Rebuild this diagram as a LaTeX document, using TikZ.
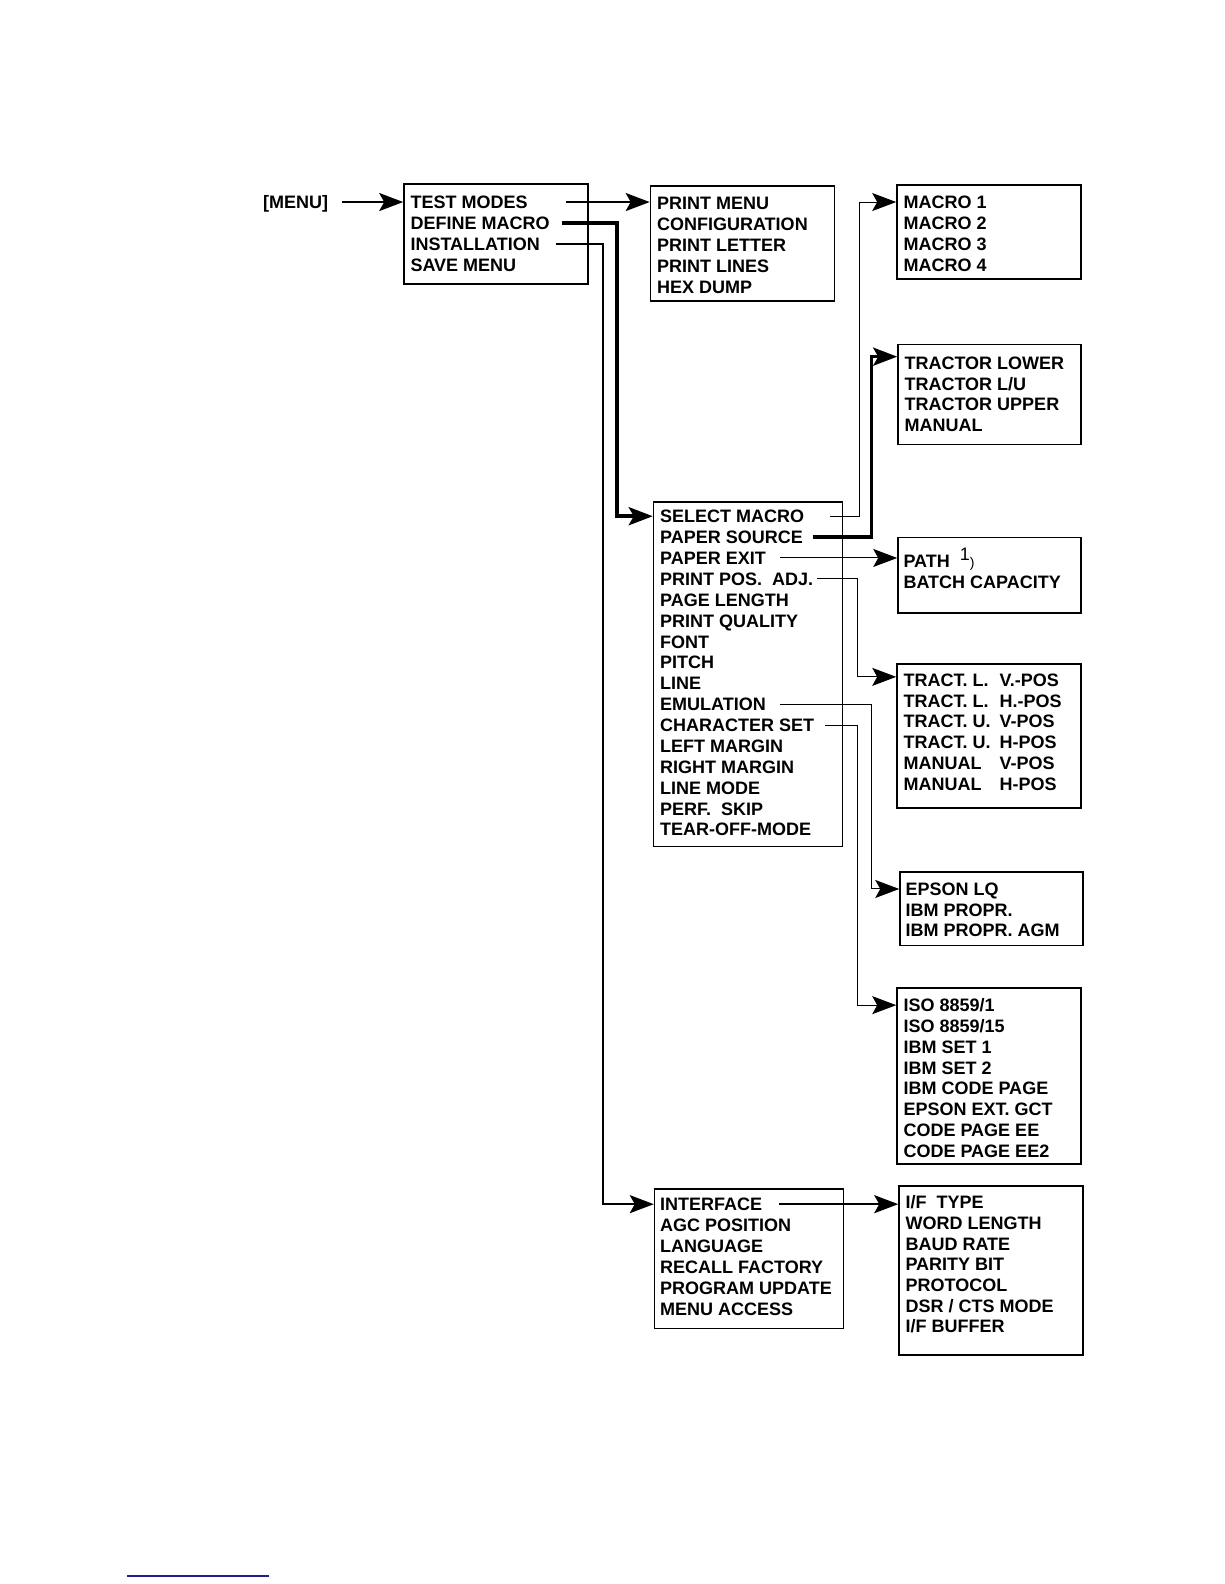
\documentclass[tikz,border=0pt]{standalone}
\usepackage{fontspec}
\setmainfont{Liberation Sans}
\usetikzlibrary{arrows.meta}
\definecolor{footblue}{RGB}{30,30,140}

\begin{document}
\begin{tikzpicture}[x=0.50495pt,y=-0.50495pt,
  >={Stealth[length=12pt,width=9pt,inset=2.5pt]},
  menubox/.style={draw,line width=0.85pt,inner sep=0pt},
  item/.style={anchor=west,inner sep=0pt,text height=6.5pt,text depth=0pt,
    font=\fontsize{9}{11}\selectfont\bfseries},
  thinline/.style={line width=0.5pt},
  midline/.style={line width=1.1pt},
  fatline/.style={line width=1.8pt}]
  \useasboundingbox (0,0) rectangle (1212,1568);
  % the boxes (page is measured in pixels of the scan, sizes in pt)
  \node[menubox,minimum width=91.9pt,minimum height=50pt]   (main)  at (491,231.5)  {};
  \node[menubox,minimum width=91.9pt,minimum height=57.6pt] (test)  at (735,241)    {};
  \node[menubox,minimum width=91.9pt,minimum height=47pt]   (macro) at (979,229.5)  {};
  \node[menubox,minimum width=91.4pt,minimum height=50pt]   (tract) at (979.5,390.5){};
  \node[menubox,minimum width=94.4pt,minimum height=172.2pt](setup) at (740.5,667.5){};
  \node[menubox,minimum width=91.4pt,minimum height=37.9pt] (path)  at (979.5,569.5){};
  \node[menubox,minimum width=91.9pt,minimum height=72.2pt] (ppos)  at (979,728.5)  {};
  \node[menubox,minimum width=91.4pt,minimum height=36.9pt] (emul)  at (981.5,899.5){};
  \node[menubox,minimum width=91.9pt,minimum height=87.9pt] (cset)  at (979,1065)   {};
  \node[menubox,minimum width=94.4pt,minimum height=69.7pt] (inst)  at (741.5,1246) {};
  \node[menubox,minimum width=91.9pt,minimum height=84.3pt] (iface) at (981,1257.5) {};

  % the menu lines
  \node[item] (menu) at (260,200) {[MENU]};
  \foreach \t [count=\i] in {TEST MODES,DEFINE MACRO,INSTALLATION,SAVE MENU}
    \node[item] (m\i) at (406,{179.3+20.7*\i}) {\t};
  \foreach \t [count=\i] in {PRINT MENU,CONFIGURATION,PRINT LETTER,PRINT LINES,HEX DUMP}
    \node[item] (t\i) at (650,{180.25+20.75*\i}) {\t};
  \foreach \t [count=\i] in {MACRO 1,MACRO 2,MACRO 3,MACRO 4}
    \node[item] (mc\i) at (894,{179.33+20.67*\i}) {\t};
  \foreach \t [count=\i] in {TRACTOR LOWER,TRACTOR L/U,TRACTOR UPPER,MANUAL}
    \node[item] (tr\i) at (895,{338.33+20.67*\i}) {\t};
  \foreach \t [count=\i] in {SELECT MACRO,PAPER SOURCE,PAPER EXIT,PRINT POS.\ \ ADJ.,
      PAGE LENGTH,PRINT QUALITY,FONT,PITCH,LINE,EMULATION,CHARACTER SET,
      LEFT MARGIN,RIGHT MARGIN,LINE MODE,PERF.\ \ SKIP,TEAR-OFF-MODE}
    \node[item] (s\i) at (653,{490.33+20.67*\i}) {\t};
  \foreach \t [count=\i] in {PATH\ \ \raisebox{3.5pt}{\mdseries 1}{\mdseries\fontsize{7}{8}\selectfont )},
      BATCH CAPACITY}
    \node[item] (pa\i) at (894,{534+21*\i}) {\t};
  \foreach \t [count=\i] in {\makebox[48pt][l]{TRACT. L.}V.-POS,
      \makebox[48pt][l]{TRACT. L.}H.-POS,\makebox[48pt][l]{TRACT. U.}V-POS,
      \makebox[48pt][l]{TRACT. U.}H-POS,\makebox[48pt][l]{MANUAL}V-POS,
      \makebox[48pt][l]{MANUAL}H-POS}
    \node[item] (pp\i) at (894,{652.4+20.6*\i}) {\t};
  \foreach \t [count=\i] in {EPSON LQ,IBM PROPR.,IBM PROPR. AGM}
    \node[item] (em\i) at (896,{859.5+20.5*\i}) {\t};
  \foreach \t [count=\i] in {ISO 8859/1,ISO 8859/15,IBM SET 1,IBM SET 2,IBM CODE PAGE,
      EPSON EXT. GCT,CODE PAGE EE,CODE PAGE EE2}
    \node[item] (cs\i) at (894,{974.43+20.57*\i}) {\t};
  \foreach \t [count=\i] in {INTERFACE,AGC POSITION,LANGUAGE,RECALL FACTORY,
      PROGRAM UPDATE,MENU ACCESS}
    \node[item] (in\i) at (653,{1171.2+20.8*\i}) {\t};
  \foreach \t [count=\i] in {I/F\ \ TYPE,WORD LENGTH,BAUD RATE,PARITY BIT,PROTOCOL,
      DSR / CTS MODE,I/F BUFFER}
    \node[item] (if\i) at (896,{1169.5+20.5*\i}) {\t};

  % connectors
  \draw[->,midline] ([xshift=7pt]menu.east) -- (main.west |- menu);
  \draw[->,midline] ([xshift=19pt]m1.east) -- (test.west |- m1);
  \draw[->,fatline] ([xshift=5.8pt]m2.east) -- ([xshift=14.1pt]main.east |- m2)
    |- (setup.west |- s1);
  \draw[->,midline] ([xshift=7.7pt]m3.east) -- ([xshift=7.1pt]main.east |- m3)
    |- (inst.west |- in1);
  % from the setup box
  \draw[->,thinline] ([xshift=12.8pt]s1.east) -- ([xshift=8.1pt]setup.east |- s1)
    |- (macro.west |- mc1);
  \draw[->,fatline] ([xshift=4.7pt]s2.east) -- ([xshift=14.1pt]setup.east |- s2)
    |- ([yshift=3pt]tract.west |- tr1);
  \draw[->,thinline] ([xshift=7pt]s3.east) -- (path.west |- s3);
  \draw[->,thinline] ([xshift=1.5pt]s4.east) -- ([xshift=7.1pt]setup.east |- s4)
    |- ([yshift=1.5pt]ppos.west |- pp1);
  \draw[->,thinline] ([xshift=7pt]s10.east) -- ([xshift=14.1pt]setup.east |- s10)
    |- (emul.west |- em1);
  \draw[->,thinline] ([xshift=5.3pt]s11.east) -- ([xshift=7.1pt]setup.east |- s11)
    |- (cset.west |- cs1);
  \draw[->,midline] ([xshift=8pt]in1.east) -- (iface.west |- in1);

  % footnote rule
  \draw[footblue,line width=1pt] (126,1560) -- (266,1560);
\end{tikzpicture}
\end{document}
